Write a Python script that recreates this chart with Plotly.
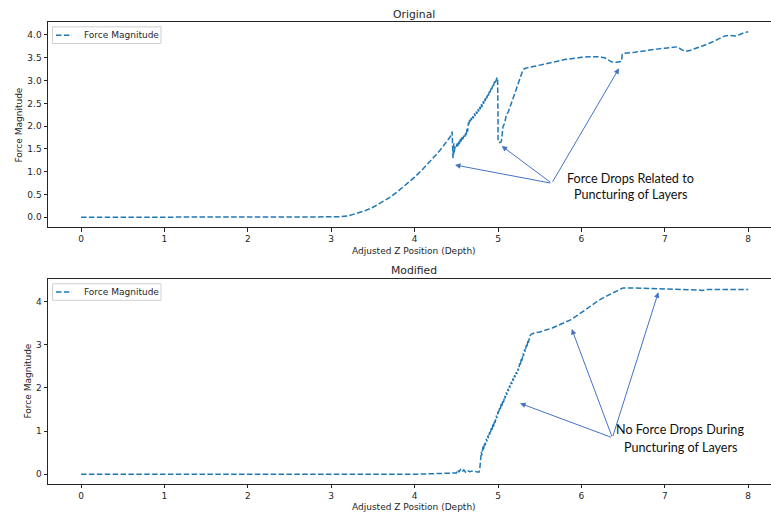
import plotly.graph_objects as go

# Force readings along the adjusted Z position (depth)
orig_x = [0.0, 1.0, 2.0, 3.0, 3.1, 3.2, 3.3, 3.4, 3.5, 3.6, 3.7, 3.8, 3.9, 4.0, 4.1, 4.2, 4.3, 4.4,
          4.44, 4.45, 4.46, 4.45, 4.46, 4.47, 4.46, 4.47, 4.48, 4.47, 4.49,
          4.50, 4.51, 4.515, 4.53, 4.535, 4.55, 4.555, 4.57, 4.575, 4.59, 4.60, 4.61, 4.615,
          4.63, 4.635, 4.645, 4.65, 4.66, 4.665, 4.68, 4.685, 4.70, 4.705, 4.72, 4.725, 4.74,
          4.745, 4.76, 4.765, 4.78, 4.785, 4.80, 4.805, 4.82, 4.825, 4.84, 4.845, 4.86, 4.865,
          4.88, 4.885, 4.90, 4.905, 4.92, 4.925, 4.94, 4.945, 4.96, 4.965, 4.99,
          4.995, 5.0, 5.0, 5.02, 5.04, 5.06, 5.08, 5.10, 5.12, 5.14, 5.18, 5.22, 5.26, 5.30, 5.33,
          5.40, 5.50, 5.60, 5.70, 5.80, 5.90, 6.00, 6.10, 6.20, 6.28, 6.33, 6.36, 6.42, 6.46, 6.48,
          6.49, 6.52, 6.60, 6.70, 6.80, 6.90, 7.00, 7.10, 7.15, 7.20, 7.25, 7.30, 7.35, 7.45, 7.55,
          7.65, 7.72, 7.78, 7.85, 7.90, 7.95, 8.00]
orig_y = [0.0, 0.0, 0.0, 0.0, 0.01, 0.03, 0.08, 0.14, 0.22, 0.32, 0.43, 0.57, 0.72, 0.88, 1.06, 1.25, 1.46, 1.70,
          1.80, 1.88, 1.55, 1.75, 1.30, 1.45, 1.35, 1.62, 1.50, 1.40, 1.58,
          1.55, 1.62, 1.55, 1.66, 1.60, 1.72, 1.66, 1.76, 1.70, 1.79, 1.74, 1.84, 1.78,
          1.96, 1.88, 2.08, 2.02, 2.14, 2.08, 2.18, 2.13, 2.22, 2.17, 2.28, 2.22, 2.32,
          2.27, 2.38, 2.32, 2.42, 2.37, 2.48, 2.42, 2.54, 2.49, 2.60, 2.55, 2.66, 2.61,
          2.72, 2.67, 2.79, 2.74, 2.86, 2.81, 2.92, 2.88, 2.99, 2.95, 3.07,
          3.00, 2.20, 1.66, 1.64, 1.66, 2.00, 2.06, 2.26, 2.30, 2.40, 2.62, 2.83, 3.03, 3.24, 3.27,
          3.30, 3.35, 3.39, 3.42, 3.46, 3.49, 3.51, 3.52, 3.52, 3.50, 3.45, 3.41, 3.40, 3.41, 3.42,
          3.58, 3.60, 3.61, 3.64, 3.66, 3.69, 3.71, 3.73, 3.74, 3.68, 3.64, 3.66, 3.69, 3.76, 3.83,
          3.92, 3.98, 3.99, 3.98, 4.01, 4.05, 4.07]

mod_x = [0.0, 1.0, 2.0, 3.0, 4.0, 4.50, 4.52, 4.53, 4.55, 4.57, 4.59, 4.61, 4.63, 4.66, 4.70, 4.74,
         4.77, 4.78, 4.79, 4.795, 4.80, 4.805, 4.82, 4.825, 4.84, 4.845, 4.86, 4.865, 4.88, 4.885,
         4.90, 4.905, 4.92, 4.925, 4.94, 4.945, 4.96, 4.965, 4.98, 4.985, 5.00, 5.005, 5.02, 5.025,
         5.04, 5.045, 5.06, 5.065, 5.08, 5.085, 5.10, 5.105, 5.12, 5.125, 5.14, 5.145, 5.16, 5.165,
         5.18, 5.185, 5.20, 5.205, 5.22, 5.225, 5.24, 5.245, 5.26, 5.265, 5.28, 5.285, 5.30, 5.305,
         5.32, 5.325, 5.34, 5.345, 5.36, 5.365, 5.38, 5.40, 5.44,
         5.50, 5.58, 5.65, 5.72, 5.80, 5.87, 5.95, 6.05, 6.12, 6.20, 6.30, 6.40, 6.50, 6.60, 6.80,
         7.00, 7.10, 7.20, 7.30, 7.40, 7.45, 7.50, 7.70, 8.00]
mod_y = [0.0, 0.0, 0.0, 0.0, 0.0, 0.03, 0.10, 0.05, 0.11, 0.06, 0.10, 0.05, 0.09, 0.06, 0.08, 0.06,
         0.05, 0.10, 0.40, 0.30, 0.52, 0.44, 0.64, 0.57, 0.74, 0.67, 0.82, 0.76, 0.90, 0.84,
         0.98, 0.92, 1.07, 1.01, 1.16, 1.10, 1.26, 1.20, 1.36, 1.30, 1.46, 1.40, 1.54, 1.48,
         1.64, 1.58, 1.72, 1.66, 1.82, 1.76, 1.90, 1.84, 1.98, 1.93, 2.06, 2.01, 2.14, 2.09,
         2.22, 2.17, 2.30, 2.25, 2.37, 2.32, 2.45, 2.40, 2.57, 2.51, 2.69, 2.63, 2.80, 2.74,
         2.90, 2.84, 3.00, 2.94, 3.11, 3.05, 3.20, 3.25, 3.28,
         3.30, 3.34, 3.39, 3.45, 3.51, 3.58, 3.68, 3.82, 3.92, 4.02, 4.13, 4.23, 4.32, 4.32, 4.31,
         4.30, 4.29, 4.29, 4.28, 4.27, 4.26, 4.28, 4.28, 4.28]

x_ticks = [0, 1, 2, 3, 4, 5, 6, 7, 8]
orig_y_ticks = [0.0, 0.5, 1.0, 1.5, 2.0, 2.5, 3.0, 3.5, 4.0]
orig_y_labels = ["0.0", "0.5", "1.0", "1.5", "2.0", "2.5", "3.0", "3.5", "4.0"]
mod_y_ticks = [0, 1, 2, 3, 4]

# callout arrows: (tail x, tail y, head x, head y) in data units
orig_arrows = [(5.644, 0.746, 4.484, 1.148), (5.644, 0.746, 5.044, 1.565), (5.644, 0.746, 6.451, 3.269)]
mod_arrows = [(6.371, 0.848, 5.264, 1.645), (6.371, 0.848, 5.884, 3.367), (6.371, 0.848, 6.922, 4.218)]

W, H = 771, 516
BLUE = "#1f77b4"
INK = "#262626"
ARROW = "#4472C4"
TICK_FONT = dict(family="DejaVu Sans", size=9, color=INK)


def px(x):
    return x / W


def py(y):
    return 1 - y / H


fig = go.Figure()
line_style = dict(color=BLUE, width=1.5, dash="5.5px,2.4px")
fig.add_trace(go.Scatter(x=orig_x, y=orig_y, mode="lines", line=line_style,
                         xaxis="x", yaxis="y", showlegend=False, hoverinfo="skip"))
fig.add_trace(go.Scatter(x=mod_x, y=mod_y, mode="lines", line=line_style,
                         xaxis="x2", yaxis="y2", showlegend=False, hoverinfo="skip"))

common_x = dict(domain=[px(48), 1.0], range=[-0.396, 8.273], tickvals=x_ticks,
                ticks="outside", ticklen=3.5, tickwidth=1, tickcolor=INK,
                showline=True, mirror=True, linecolor=INK, linewidth=1,
                showgrid=False, zeroline=False, tickfont=TICK_FONT)
common_y = dict(ticks="outside", ticklen=3.5, tickwidth=1, tickcolor=INK,
                showline=True, mirror=False, linecolor=INK, linewidth=1,
                showgrid=False, zeroline=False, tickfont=TICK_FONT)

fig.update_layout(
    width=W, height=H,
    margin=dict(l=0, r=0, t=0, b=0),
    paper_bgcolor="white", plot_bgcolor="white",
    xaxis=dict(common_x, anchor="y"),
    yaxis=dict(common_y, domain=[py(227), py(22)], range=[-0.213, 4.285],
               tickvals=orig_y_ticks, ticktext=orig_y_labels, anchor="x"),
    xaxis2=dict(common_x, anchor="y2"),
    yaxis2=dict(common_y, domain=[py(483.7), py(279.3)], range=[-0.218, 4.519],
                tickvals=mod_y_ticks, anchor="x2"),
)

annotations = []
shapes = []


def text(x, y, s, size, angle=0, family="DejaVu Sans", color=INK, xanchor="center"):
    annotations.append(dict(x=px(x), y=py(y), xref="paper", yref="paper", text=s,
                            showarrow=False, textangle=angle, xanchor=xanchor, yanchor="middle",
                            font=dict(family=family, size=size, color=color)))


# titles and axis labels
text(414, 14, "Original", 10.8)
text(414, 270, "Modified", 10.8)
text(414, 250.5, "Adjusted Z Position (Depth)", 9)
text(414, 507, "Adjusted Z Position (Depth)", 9)
text(18.5, 125, "Force Magnitude", 9, angle=-90)
text(27, 381.5, "Force Magnitude", 9, angle=-90)


# legend boxes
def legend(y0, y1):
    ym = (y0 + y1) / 2
    shapes.append(dict(type="rect", xref="paper", yref="paper",
                       x0=px(52.5), x1=px(161), y0=py(y1), y1=py(y0),
                       line=dict(color="#d0d0d0", width=1), fillcolor="rgba(255,255,255,0.8)"))
    shapes.append(dict(type="line", xref="paper", yref="paper",
                       x0=px(56), x1=px(72), y0=py(ym), y1=py(ym),
                       line=dict(color=BLUE, width=1.5, dash="5.5px,2.4px")))
    text(81.5, ym, "Force Magnitude", 9, xanchor="left")


legend(26.8, 43.5)
legend(283.8, 300.3)

# callout arrows
for (tx, ty, hx, hy) in orig_arrows:
    annotations.append(dict(x=hx, y=hy, ax=tx, ay=ty, xref="x", yref="y", axref="x", ayref="y",
                            text="", showarrow=True, arrowhead=2, arrowsize=1.1, arrowwidth=1,
                            arrowcolor=ARROW, standoff=0, startstandoff=0))
for (tx, ty, hx, hy) in mod_arrows:
    annotations.append(dict(x=hx, y=hy, ax=tx, ay=ty, xref="x2", yref="y2", axref="x2", ayref="y2",
                            text="", showarrow=True, arrowhead=2, arrowsize=1.1, arrowwidth=1,
                            arrowcolor=ARROW, standoff=0, startstandoff=0))

# callout texts
text(630.5, 178.3, "Force Drops Related to", 12.6, family="Lato", color="#111")
text(630.5, 194.0, "Puncturing of Layers", 12.6, family="Lato", color="#111")
text(679.5, 429.0, "No Force Drops During", 12.6, family="Lato", color="#111")
text(680.0, 447.3, "Puncturing of Layers", 12.6, family="Lato", color="#111")

fig.update_layout(annotations=annotations, shapes=shapes)
fig.write_html("out.html")
